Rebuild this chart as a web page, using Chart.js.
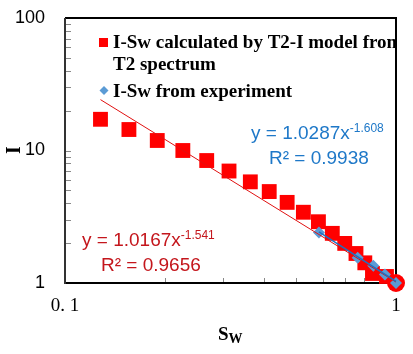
<!DOCTYPE html>
<html>
<head>
<meta charset="utf-8">
<script src="https://cdn.jsdelivr.net/npm/chart.js@4.4.1/dist/chart.umd.min.js"></script>
<style>
  body { margin: 0; background: #fff; }
</style>
</head>
<body>
<canvas id="chart" width="413" height="354"></canvas>
<script>
// I-Sw calculated by T2-I model (red squares)
const calcSw = [0.128, 0.156, 0.190, 0.227, 0.268, 0.313, 0.363, 0.414, 0.469, 0.525, 0.583, 0.642, 0.700, 0.757, 0.805, 0.849, 0.936, 1.0];
const calcI  = [17.2, 14.4, 11.9, 10.0, 8.4, 7.0, 5.8, 4.9, 4.06, 3.42, 2.90, 2.37, 1.99, 1.67, 1.42, 1.18, 1.12, 1.0];

// I-Sw from experiment (blue diamonds)
const expSw = [0.585, 0.766, 0.854, 0.926, 1.0];
const expI  = [2.41, 1.55, 1.35, 1.16, 1.0];

// power-law trend lines, end points (straight on log-log)
const calcFitSw = [0.128, 1.0];
const calcFitI  = [24.2, 1.0167];
const expFitSw  = [0.585, 1.0];
const expFitI   = [2.436, 1.0287];

// axes
const xTickValues = [0.1, 1];
const xTickLabels = ['0. 1', '1'];
const xMinorTicks = [0.2, 0.3, 0.4, 0.5, 0.6, 0.7, 0.8, 0.9];
const yTickValues = [1, 10, 100];
const yTickLabels = ['1', '10', '100'];
const yMinorTicks = [2, 3, 4, 5, 6, 7, 8, 9, 10, 20, 30, 40, 50, 60, 70, 80, 90];

const legendLabels = [['I-Sw calculated by T2-I model from', 'T2 spectrum'], ['I-Sw from experiment']];
const expEquation = ['y = 1.0287x', '-1.608', 'R\u00b2 = 0.9938'];
const calcEquation = ['y = 1.0167x', '-1.541', 'R\u00b2 = 0.9656'];

const RED = '#FF0000';
const BLUE = '#5B9BD5';
const RED_TEXT = '#C4161C';
const BLUE_TEXT = '#1E78C8';

function pts(xs, ys) {
    return xs.map((x, i) => ({ x: x, y: ys[i] }));
}

const frame = {
    id: 'frame',
    beforeDatasetsDraw(chart) {
        const ctx = chart.ctx;
        const a = chart.chartArea;
        const xs = chart.scales.x, ys = chart.scales.y;
        ctx.save();
        // minor ticks, pointing inwards
        ctx.strokeStyle = '#888';
        ctx.lineWidth = 1;
        ctx.beginPath();
        yMinorTicks.forEach(v => {
            const py = Math.round(ys.getPixelForValue(v)) + 0.5;
            ctx.moveTo(a.left, py);
            ctx.lineTo(a.left + 6, py);
        });
        xMinorTicks.forEach(v => {
            const px = Math.round(xs.getPixelForValue(v)) + 0.5;
            ctx.moveTo(px, a.bottom);
            ctx.lineTo(px, a.bottom - 5);
        });
        ctx.stroke();
        // box
        ctx.lineWidth = 2;
        ctx.strokeStyle = '#000';
        ctx.beginPath();
        ctx.moveTo(a.left, a.top);
        ctx.lineTo(a.right, a.top);
        ctx.lineTo(a.right, a.bottom);
        ctx.lineTo(a.left, a.bottom);
        ctx.stroke();
        ctx.strokeStyle = '#333';
        ctx.beginPath();
        ctx.moveTo(a.left, a.top);
        ctx.lineTo(a.left, a.bottom + 1);
        ctx.stroke();
        ctx.restore();
    },
    afterDatasetsDraw(chart) {
        const ctx = chart.ctx;
        const a = chart.chartArea;
        ctx.save();
        ctx.beginPath();
        ctx.rect(a.left, a.top, a.right - a.left, a.bottom - a.top);
        ctx.clip();
        // legend
        ctx.fillStyle = RED;
        ctx.fillRect(99, 38, 9, 9);
        ctx.fillStyle = BLUE;
        ctx.beginPath();
        ctx.moveTo(104, 86); ctx.lineTo(108.5, 90.5); ctx.lineTo(104, 95); ctx.lineTo(99.5, 90.5);
        ctx.closePath();
        ctx.fill();
        ctx.fillStyle = '#000';
        ctx.font = 'bold 19px "Liberation Serif"';
        ctx.textBaseline = 'alphabetic';
        ctx.fillText(legendLabels[0][0], 113, 48);
        ctx.fillText(legendLabels[0][1], 113, 70);
        ctx.fillText(legendLabels[1][0], 113, 97);
        ctx.restore();

        // trend line equations
        ctx.save();
        ctx.textBaseline = 'alphabetic';
        function equation(eq, x, y, x2, y2, color) {
            ctx.fillStyle = color;
            ctx.font = '19px "Liberation Sans"';
            ctx.fillText(eq[0], x, y);
            const w = ctx.measureText(eq[0]).width;
            ctx.font = '12px "Liberation Sans"';
            ctx.fillText(eq[1], x + w, y - 7);
            ctx.font = '19px "Liberation Sans"';
            ctx.fillText(eq[2], x2, y2);
        }
        equation(expEquation, 251, 139, 269, 164, BLUE_TEXT);
        equation(calcEquation, 82, 246, 101, 271, RED_TEXT);

        // axis titles
        ctx.fillStyle = '#000';
        ctx.font = 'bold 19px "Liberation Serif"';
        ctx.fillText('S', 218, 340);
        const sw = ctx.measureText('S').width;
        ctx.font = 'bold 14px "Liberation Serif"';
        ctx.fillText('W', 218 + sw, 343);
        ctx.translate(15, 150);
        ctx.rotate(-Math.PI / 2);
        ctx.textAlign = 'center';
        ctx.textBaseline = 'middle';
        ctx.font = 'bold 20px "Liberation Serif"';
        ctx.fillText('I', 0, 0);
        ctx.restore();
    }
};

new Chart(document.getElementById('chart'), {
    type: 'scatter',
    data: {
        datasets: [
            {
                label: 'exp fit',
                data: pts(expFitSw, expFitI),
                showLine: true,
                borderColor: '#1F70C0',
                borderWidth: 1.5,
                pointRadius: 0,
                order: 0
            },
            {
                label: 'calc fit',
                data: pts(calcFitSw, calcFitI),
                showLine: true,
                borderColor: '#E01010',
                borderWidth: 1,
                pointRadius: 0,
                order: 1
            },
            {
                label: 'I-Sw from experiment',
                data: pts(expSw, expI),
                pointStyle: 'rectRot',
                pointRadius: 6,
                backgroundColor: BLUE,
                borderWidth: 0,
                order: 2
            },
            {
                label: 'I-Sw calculated by T2-I model from T2 spectrum',
                data: pts(calcSw, calcI),
                pointStyle: calcSw.map((v, i) => i === calcSw.length - 1 ? 'circle' : 'rect'),
                pointRadius: calcSw.map((v, i) => i === calcSw.length - 1 ? 9 : 10.5),
                backgroundColor: RED,
                borderWidth: 0,
                order: 3
            }
        ]
    },
    options: {
        responsive: false,
        animation: false,
        clip: false,
        layout: { padding: { top: 18, right: 17, left: 0, bottom: 0 } },
        plugins: {
            legend: { display: false },
            tooltip: { enabled: false }
        },
        scales: {
            x: {
                type: 'logarithmic',
                min: 0.1,
                max: 1,
                grid: { display: false, drawTicks: false },
                border: { display: false },
                afterBuildTicks: s => { s.ticks = xTickValues.map(v => ({ value: v })); },
                afterFit: s => { s.height = 71; },
                ticks: {
                    padding: 12,
                    maxRotation: 0,
                    autoSkip: false,
                    color: '#000',
                    font: { family: 'Liberation Serif', size: 19 },
                    callback: (v) => xTickLabels[xTickValues.indexOf(v)]
                }
            },
            y: {
                type: 'logarithmic',
                min: 1,
                max: 100,
                grid: { display: false, drawTicks: false },
                border: { display: false },
                afterBuildTicks: s => { s.ticks = yTickValues.map(v => ({ value: v })); },
                afterFit: s => { s.width = 65; s.paddingTop = 0; s.paddingBottom = 0; },
                ticks: {
                    padding: 20,
                    autoSkip: false,
                    color: '#000',
                    font: { family: 'Liberation Sans', size: 18 },
                    callback: (v) => yTickLabels[yTickValues.indexOf(v)]
                }
            }
        }
    },
    plugins: [frame]
});
</script>
</body>
</html>
